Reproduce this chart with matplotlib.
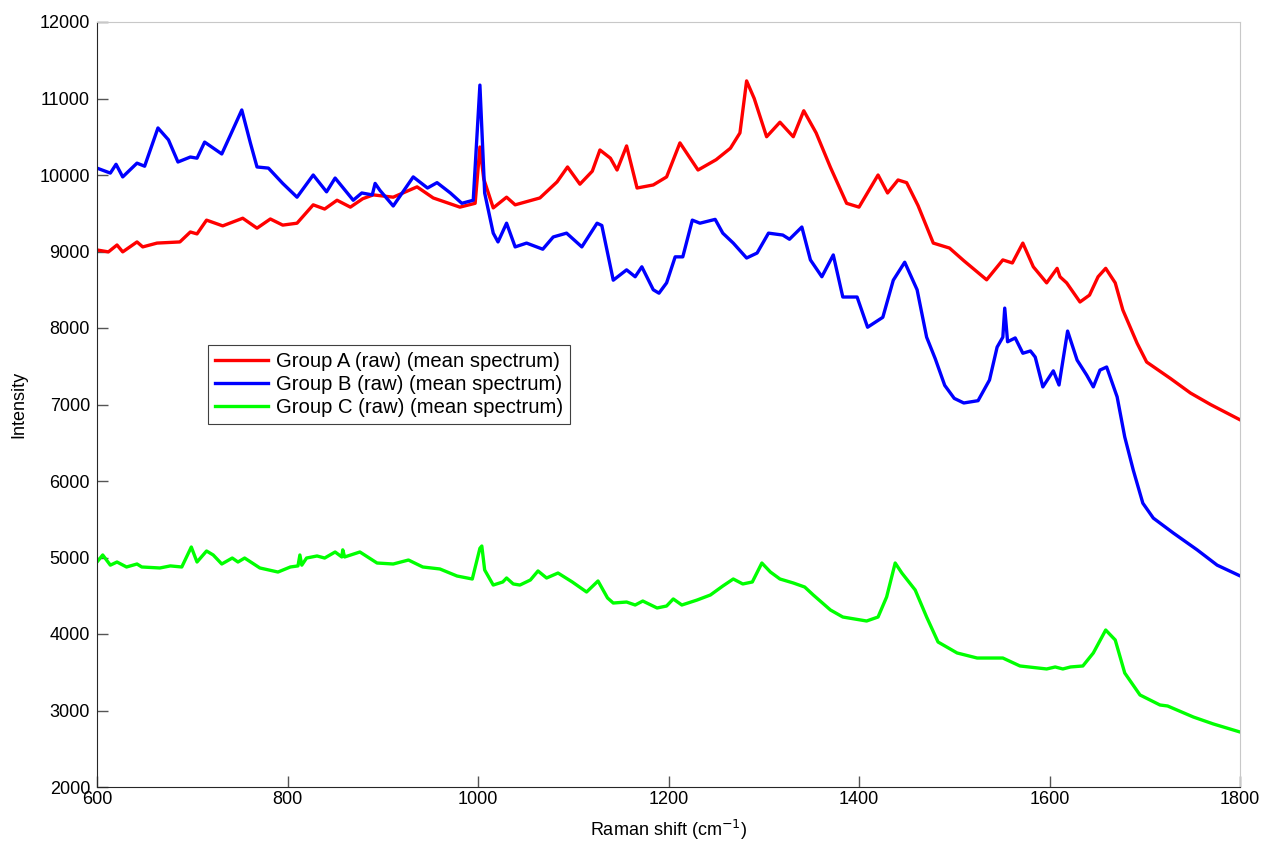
import matplotlib
matplotlib.use("Agg")
import matplotlib.pyplot as plt

plt.rcParams['font.family'] = ['Liberation Sans', 'DejaVu Sans']

# Group A (red) mean spectrum
wn_a = [600, 612, 621, 627, 642, 648, 663, 687, 698, 705, 715, 732, 753, 768, 782, 795,
        810, 827, 839, 852, 866, 879, 890, 911, 936, 953, 981, 997, 1002, 1006, 1016,
        1030, 1039, 1065, 1083, 1094, 1107, 1120, 1128, 1139, 1146, 1156, 1167, 1184,
        1198, 1212, 1231, 1250, 1265, 1275, 1282, 1290, 1303, 1317, 1331, 1342, 1355,
        1370, 1387, 1400, 1420, 1430, 1441, 1450, 1462, 1478, 1495, 1510, 1534, 1551,
        1561, 1572, 1583, 1597, 1608, 1611, 1618, 1632, 1642, 1651, 1659, 1669, 1677,
        1692, 1702, 1727, 1748, 1769, 1800]
int_a = [9020, 8995, 9085, 8995, 9125, 9060, 9110, 9125, 9255, 9230, 9410, 9335, 9435,
         9305, 9425, 9345, 9370, 9610, 9555, 9670, 9580, 9690, 9740, 9710, 9845, 9700,
         9580, 9630, 10366, 9950, 9570, 9710, 9610, 9700, 9910, 10105, 9880, 10050,
         10327, 10220, 10065, 10380, 9830, 9870, 9975, 10420, 10065, 10200, 10350,
         10550, 11230, 11000, 10500, 10690, 10500, 10840, 10550, 10100, 9630, 9580,
         10000, 9765, 9935, 9900, 9600, 9110, 9045, 8880, 8630, 8890, 8850, 9110, 8800,
         8590, 8780, 8670, 8590, 8340, 8430, 8670, 8780, 8590, 8235, 7800, 7555, 7340,
         7150, 7000, 6800]

# Group B (blue)
wn_b = [600, 614, 620, 627, 642, 650, 664, 675, 685, 698, 705, 713, 731, 740, 752, 761,
        768, 780, 795, 810, 827, 841, 850, 869, 878, 889, 892, 897, 911, 932, 947, 957,
        971, 983, 995, 1002, 1007, 1016, 1021, 1030, 1039, 1051, 1068, 1079, 1093, 1109,
        1125, 1130, 1142, 1156, 1165, 1172, 1184, 1190, 1198, 1207, 1215, 1225, 1233,
        1249, 1257, 1268, 1282, 1293, 1305, 1320, 1327, 1340, 1349, 1361, 1373, 1383,
        1398, 1409, 1425, 1436, 1448, 1461, 1471, 1480, 1490, 1500, 1510, 1525, 1537,
        1545, 1551, 1553, 1556, 1564, 1572, 1580, 1585, 1593, 1604, 1610, 1619, 1629,
        1639, 1646, 1653, 1660, 1671, 1679, 1688, 1698, 1709, 1730, 1755, 1776, 1800]
int_b = [10090, 10025, 10140, 9975, 10155, 10115, 10615, 10460, 10170, 10235, 10220,
         10430, 10275, 10520, 10850, 10420, 10105, 10090, 9890, 9710, 10000, 9780, 9960,
         9670, 9765, 9740, 9890, 9800, 9595, 9975, 9830, 9900, 9765, 9630, 9670, 11175,
         9765, 9240, 9125, 9370, 9060, 9110, 9030, 9190, 9240, 9060, 9370, 9340, 8625,
         8760, 8670, 8800, 8500, 8455, 8590, 8930, 8930, 9410, 9370, 9420, 9240, 9110,
         8915, 8980, 9240, 9215, 9160, 9320, 8890, 8670, 8955, 8405, 8405, 8010, 8140,
         8625, 8860, 8500, 7880, 7600, 7250, 7080, 7020, 7050, 7320, 7750, 7880, 8260,
         7820, 7870, 7670, 7700, 7620, 7230, 7440, 7255, 7960, 7580, 7385, 7230, 7450,
         7490, 7100, 6575, 6140, 5710, 5515, 5320, 5100, 4900, 4760]

# Group C (green)
wn_c = [600, 606, 614, 621, 631, 642, 647, 666, 677, 689, 699, 705, 715, 722, 731, 742,
        748, 755, 771, 790, 803, 811, 813, 815, 820, 831, 839, 850, 857, 858, 860, 876,
        894, 911, 927, 942, 960, 978, 994, 1002, 1004, 1007, 1016, 1026, 1030, 1037, 1044,
        1055, 1063, 1072, 1084, 1099, 1114, 1126, 1136, 1142, 1156, 1165, 1173, 1188,
        1198, 1205, 1214, 1230, 1244, 1257, 1268, 1278, 1288, 1298, 1307, 1317, 1331,
        1343, 1352, 1370, 1383, 1408, 1420, 1429, 1438, 1445, 1459, 1471, 1483, 1503,
        1524, 1551, 1569, 1597, 1606, 1614, 1622, 1635, 1646, 1659, 1669, 1679, 1695,
        1716, 1724, 1751, 1772, 1800]
int_c = [4941, 5033, 4900, 4941, 4876, 4915, 4876, 4863, 4890, 4876, 5137, 4941, 5085,
         5033, 4915, 4993, 4941, 4993, 4863, 4810, 4876, 4890, 5033, 4900, 4993, 5020,
         4993, 5072, 5007, 5100, 5007, 5072, 4928, 4915, 4967, 4876, 4850, 4758, 4719,
         5120, 5150, 4837, 4640, 4680, 4732, 4654, 4640, 4706, 4824, 4732, 4797, 4680,
         4549, 4693, 4471, 4405, 4418, 4379, 4431, 4340, 4366, 4458, 4379, 4444, 4510,
         4627, 4719, 4654, 4680, 4928, 4810, 4719, 4667, 4614, 4510, 4314, 4222, 4170,
         4222, 4484, 4928, 4797, 4575, 4222, 3895, 3752, 3686, 3686, 3582, 3543, 3569,
         3543, 3569, 3582, 3752, 4052, 3922, 3490, 3203, 3072, 3059, 2915, 2824, 2719]

labels = ['Group A (raw) (mean spectrum)', 'Group B (raw) (mean spectrum)',
          'Group C (raw) (mean spectrum)']

fig = plt.figure(figsize=(12.64, 8.44), dpi=100)
ax = fig.add_axes([97 / 1264, 1 - 787 / 844, 1143 / 1264, 765 / 844])

ax.plot(wn_a, int_a, color='#ff0000', lw=2.4, label=labels[0])
ax.plot(wn_b, int_b, color='#0000ff', lw=2.4, label=labels[1])
ax.plot(wn_c, int_c, color='#00ff00', lw=2.4, label=labels[2])

ax.set_xlim(600, 1800)
ax.set_ylim(2000, 12000)
ax.set_xticks(range(600, 1801, 200))
ax.set_yticks(range(2000, 12001, 1000))
ax.tick_params(direction='in', length=8, width=1, labelsize=13, colors='#555555',
               labelcolor='black', pad=5)
ax.tick_params(axis='x', pad=3)
for side in ['top', 'right']:
    ax.spines[side].set_color('#c8c8c8')
for side in ['left', 'bottom']:
    ax.spines[side].set_color('#262626')

ax.set_xlabel('Raman shift (cm$^{-1}$)', fontsize=13)
ax.set_ylabel('Intensity', fontsize=13)
ax.xaxis.set_label_coords(0.5, (787 - 818) / 765)
ax.yaxis.set_label_coords((27 - 97) / 1143, 0.5)

leg = ax.legend(loc='upper left', bbox_to_anchor=((208 - 97) / 1143, (787 - 345) / 765),
                fontsize=14.6, fancybox=False, framealpha=1, edgecolor='#404040',
                handlelength=2.6, handletextpad=0.4, borderpad=0.35, labelspacing=0.2,
                borderaxespad=0)
leg.get_frame().set_linewidth(0.8)

fig.savefig('out.png', dpi=100)
